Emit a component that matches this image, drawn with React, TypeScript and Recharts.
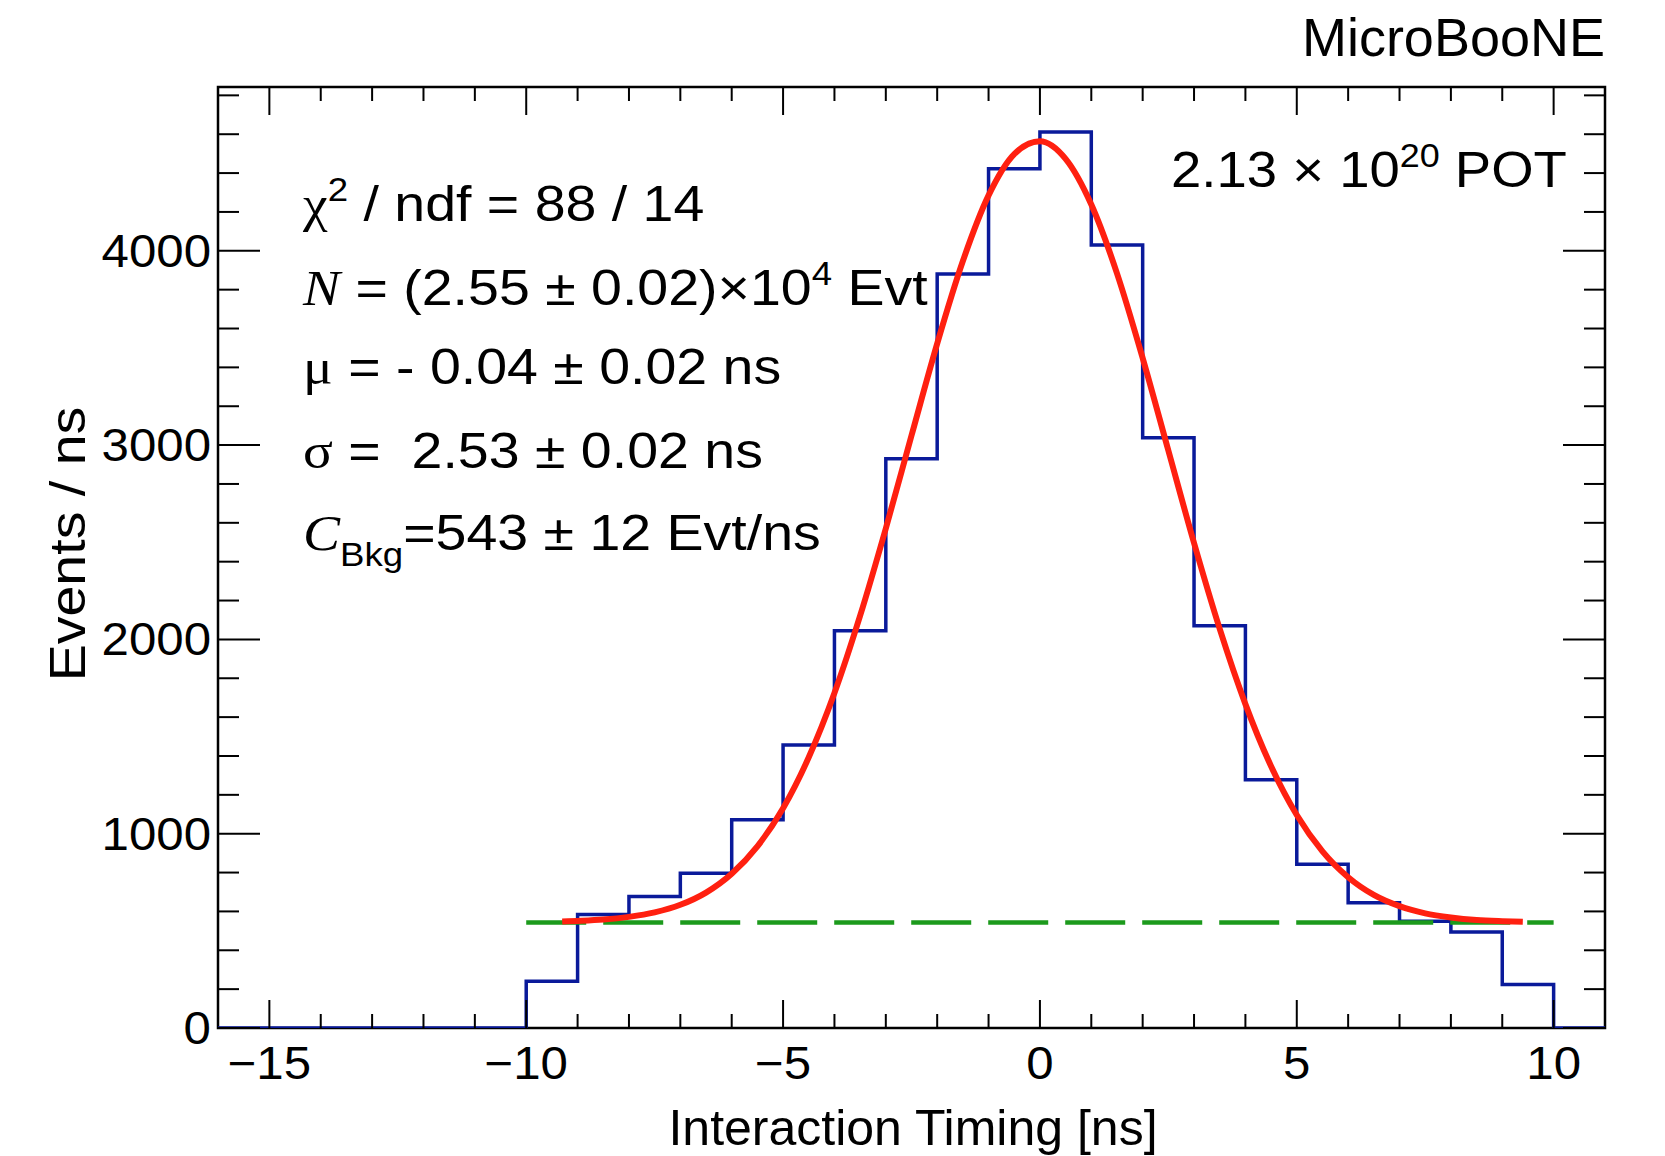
import React from 'react'
import { ComposedChart, Line, XAxis, YAxis, ReferenceArea } from 'recharts'

// histogram: 1 ns bins from -10 to 10 (Events / ns)
const binLow = [-10, -9, -8, -7, -6, -5, -4, -3, -2, -1, 0, 1, 2, 3, 4, 5, 6, 7, 8, 9]
const binCounts = [240, 584, 677, 797, 1072, 1457, 2045, 2930, 3880, 4422, 4612, 4030, 3038, 2070, 1278, 843, 645, 550, 494, 224]

// red fit curve
const fitX = [-9.3, -9, -8.5, -8, -7.5, -7, -6.5, -6, -5.5, -5, -4.5, -4, -3.5, -3, -2.5, -2, -1.5, -1, -0.5, 0, 0.5, 1, 1.5, 2, 2.5, 3, 3.5, 4, 4.5, 5, 5.5, 6, 6.5, 7, 7.5, 8, 8.5, 9, 9.4]
const fitY = [548, 551, 558, 572, 595, 634, 697, 794, 935, 1131, 1393, 1724, 2122, 2571, 3049, 3522, 3947, 4285, 4498, 4564, 4473, 4238, 3884, 3448, 2972, 2496, 2054, 1667, 1347, 1096, 909, 776, 685, 627, 590, 569, 556, 550, 547]

// green background level
const bkgX = [-10, 10]
const bkgY = [543, 543]

const xTicks = [-15, -14, -13, -12, -11, -10, -9, -8, -7, -6, -5, -4, -3, -2, -1, 0, 1, 2, 3, 4, 5, 6, 7, 8, 9, 10]
const yTicks = [0, 200, 400, 600, 800, 1000, 1200, 1400, 1600, 1800, 2000, 2200, 2400, 2600, 2800, 3000, 3200, 3400, 3600, 3800, 4000, 4200, 4400, 4600, 4800]

const X_MIN = -16
const X_MAX = 11
const Y_MAX = 4843

const PLOT_LEFT = 218
const PLOT_RIGHT = 1605
const PLOT_TOP = 87
const PLOT_BOTTOM = 1028

const FONT = '"Liberation Sans", Arial, Helvetica, sans-serif'
const SERIF = '"Liberation Serif", "Times New Roman", serif'

const histData = [
  { x: X_MIN, y: 0 },
  ...binLow.map((x, i) => ({ x, y: binCounts[i] })),
  { x: 10, y: 0 },
  { x: X_MAX, y: 0 },
]
const fitData = fitX.map((x, i) => ({ x, y: fitY[i] }))
const bkgData = bkgX.map((x, i) => ({ x, y: bkgY[i] }))

const fmt = (v: number) => (v < 0 ? '\u2212' + Math.abs(v) : String(v))

// ROOT-style text is a bit wider than Liberation Sans
const at = (x: number, y: number, sx: number) => `translate(${x} ${y}) scale(${sx} 1)`

function XTick(props: any) {
  const { x, payload } = props
  const v = payload.value
  const major = v % 5 === 0
  const len = major ? 28 : 14
  return (
    <g>
      <line x1={x} x2={x} y1={PLOT_BOTTOM} y2={PLOT_BOTTOM - len} stroke="#000" strokeWidth={2} />
      <line x1={x} x2={x} y1={PLOT_TOP} y2={PLOT_TOP + len} stroke="#000" strokeWidth={2} />
      {major && (
        <text transform={at(x, 1079, 1.07)} textAnchor="middle" fontFamily={FONT} fontSize={46} fill="#000">
          {fmt(v)}
        </text>
      )}
    </g>
  )
}

function YTick(props: any) {
  const { y, payload } = props
  const v = payload.value
  const major = v % 1000 === 0
  const len = major ? 42 : 21
  return (
    <g>
      <line x1={PLOT_LEFT} x2={PLOT_LEFT + len} y1={y} y2={y} stroke="#000" strokeWidth={2} />
      <line x1={PLOT_RIGHT} x2={PLOT_RIGHT - len} y1={y} y2={y} stroke="#000" strokeWidth={2} />
      {major && (
        <text transform={at(211, y + 16, 1.07)} textAnchor="end" fontFamily={FONT} fontSize={46} fill="#000">
          {v}
        </text>
      )}
    </g>
  )
}

export default function App() {
  return (
    <div style={{ position: 'absolute', left: 0, top: 0, width: 1665, height: 1156, background: '#fff' }}>
      <ComposedChart width={1665} height={1156} margin={{ top: 87, right: 60, bottom: 68, left: 158 }}>
        <XAxis
          type="number"
          dataKey="x"
          domain={[X_MIN, X_MAX]}
          ticks={xTicks}
          interval={0}
          height={60}
          axisLine={false}
          tickLine={false}
          tick={<XTick />}
          allowDataOverflow
        />
        <YAxis
          type="number"
          dataKey="y"
          domain={[0, Y_MAX]}
          ticks={yTicks}
          interval={0}
          width={60}
          axisLine={false}
          tickLine={false}
          tick={<YTick />}
          allowDataOverflow
        />
        <ReferenceArea x1={X_MIN} x2={X_MAX} y1={0} y2={Y_MAX} fill="none" fillOpacity={0} stroke="#000" strokeWidth={2.5} />
        <Line
          data={histData}
          dataKey="y"
          type="stepAfter"
          stroke="#0a1a9a"
          strokeWidth={3.5}
          dot={false}
          activeDot={false}
          isAnimationActive={false}
        />
        <Line
          data={bkgData}
          dataKey="y"
          type="linear"
          stroke="#1c9a1c"
          strokeWidth={4.5}
          strokeDasharray="60 17"
          dot={false}
          activeDot={false}
          isAnimationActive={false}
        />
        <Line
          data={fitData}
          dataKey="y"
          type="monotone"
          stroke="#ff2010"
          strokeWidth={6}
          dot={false}
          activeDot={false}
          isAnimationActive={false}
        />
      </ComposedChart>

      <svg
        width={1665}
        height={1156}
        style={{ position: 'absolute', left: 0, top: 0, pointerEvents: 'none' }}
        fontFamily={FONT}
        fill="#000"
      >
        <text x={1605} y={56} textAnchor="end" fontSize={54}>MicroBooNE</text>

        <text transform={at(1171, 187, 1.09)} fontSize={50}>
          2.13 × 10<tspan dy={-20} fontSize={33}>20</tspan>
          <tspan dy={20}> POT</tspan>
        </text>

        <g fontSize={50}>
          <text transform={at(303, 221, 1.11)}>
            <tspan fontFamily={SERIF}>χ</tspan>
            <tspan dy={-20} fontSize={33}>2</tspan>
            <tspan dy={20}> / ndf = 88 / 14</tspan>
          </text>
          <text transform={at(303, 305, 1.11)}>
            <tspan fontFamily={SERIF} fontStyle="italic">N</tspan>
            <tspan> = (2.55 ± 0.02)×10</tspan>
            <tspan dy={-20} fontSize={33}>4</tspan>
            <tspan dy={20}> Evt</tspan>
          </text>
          <text transform={at(303, 384, 1.11)}>
            <tspan fontFamily={SERIF}>μ</tspan>
            <tspan> = - 0.04 ± 0.02 ns</tspan>
          </text>
          <text transform={at(303, 468, 1.11)} xmlSpace="preserve">
            <tspan fontFamily={SERIF}>σ</tspan>
            <tspan> =  2.53 ± 0.02 ns</tspan>
          </text>
          <text transform={at(303, 550, 1.11)}>
            <tspan fontFamily={SERIF} fontStyle="italic">C</tspan>
            <tspan dy={16} fontSize={33}>Bkg</tspan>
            <tspan dy={-16}>=543 ± 12 Evt/ns</tspan>
          </text>
        </g>

        <text x={913} y={1145} textAnchor="middle" fontSize={50}>Interaction Timing [ns]</text>
        <text transform="translate(85 544) rotate(-90) scale(1.11 1)" textAnchor="middle" fontSize={50}>Events / ns</text>
      </svg>
    </div>
  )
}
